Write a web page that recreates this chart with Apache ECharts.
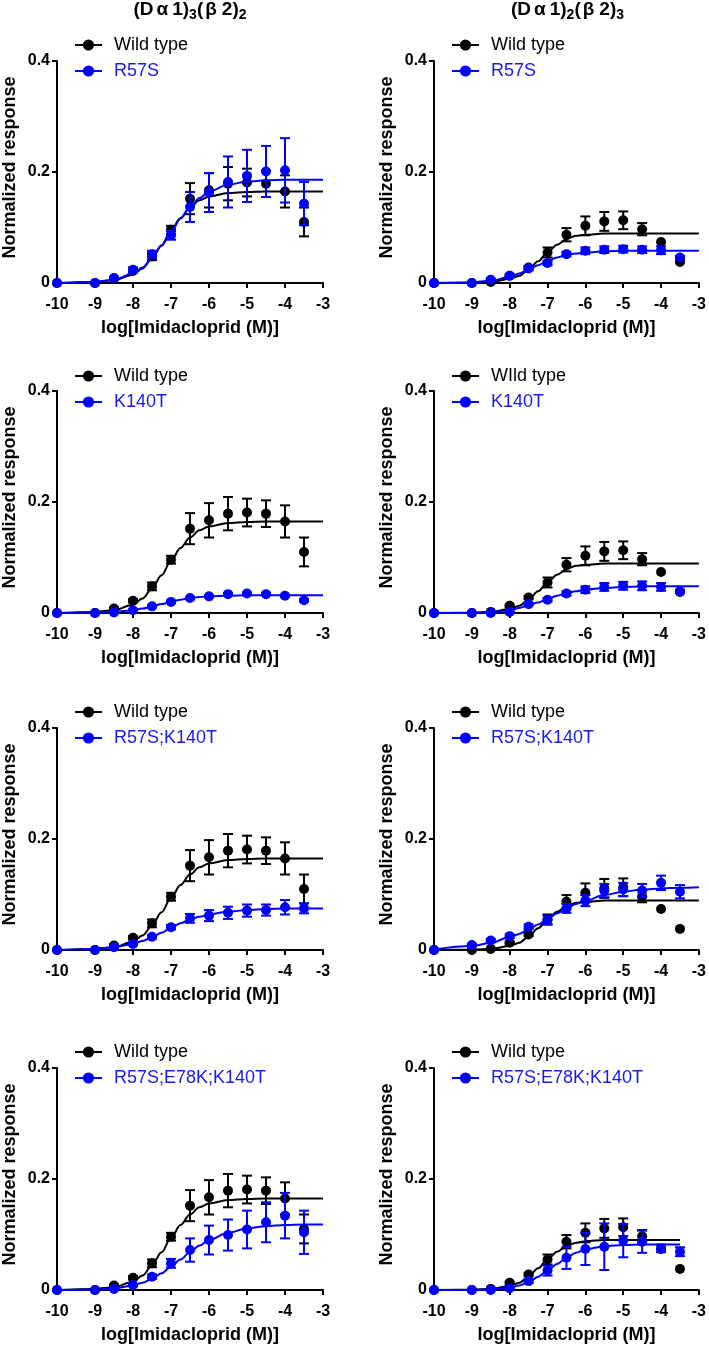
<!DOCTYPE html>
<html><head><meta charset="utf-8">
<script src="https://cdn.jsdelivr.net/npm/echarts@6/dist/echarts.min.js"></script>
<style>html,body{margin:0;padding:0;background:#fff}#c{width:709px;height:1345px}</style>
</head><body><div id="c"></div>
<script>
// ---------- DATA ----------
const doses = [-10, -9, -8.5, -8, -7.5, -7, -6.5, -6, -5.5, -5, -4.5, -4, -3.5];
const fitX  = [-10, -9, -8.5, -8, -7.75, -7.5, -7.25, -7, -6.75, -6.5, -6.25, -6, -5.5, -5, -4.5, -4, -3.5, -3];
const xTicks = [-10, -9, -8, -7, -6, -5, -4, -3];
const yTicks = [0, 0.2, 0.4];

// column titles: [main, subscript, main, subscript]
const leftTitleParts  = ['(D', 'α', '1)', '3', '(', 'β', '2)', '2'];
const rightTitleParts = ['(D', 'α', '1)', '2', '(', 'β', '2)', '3'];
const xAxisTitle = 'log[Imidacloprid (M)]';
const yAxisTitle = 'Normalized response';

// Wild type, (Dα1)3(β2)2
const wtLeftMean = [0, 0, 0.008, 0.022, 0.048, 0.096, 0.152, 0.167, 0.179, 0.181, 0.179, 0.165, 0.110];
const wtLeftSem  = [0, 0, 0.002, 0.003, 0.007, 0.007, 0.028, 0.031, 0.030, 0.025, 0.024, 0.029, 0.026];
const wtLeftFit  = [0, 0.002, 0.005, 0.015, 0.026, 0.044, 0.068, 0.094, 0.117, 0.136, 0.149, 0.156, 0.162, 0.164, 0.165, 0.165, 0.165, 0.165];
// Wild type, (Dα1)2(β2)3
const wtRightMean = [0, 0, 0.002, 0.013, 0.028, 0.055, 0.087, 0.103, 0.111, 0.113, 0.097, 0.074, 0.038];
const wtRightSem  = [0, 0, 0, 0.002, 0.003, 0.009, 0.012, 0.017, 0.017, 0.016, 0.011, 0, 0];
const wtRightFit  = [0, 0.0005, 0.002, 0.007, 0.013, 0.024, 0.039, 0.055, 0.069, 0.079, 0.085, 0.087, 0.089, 0.089, 0.089, 0.089, 0.089, 0.089];
const wtRightFitShort = [0, 0.0005, 0.002, 0.007, 0.013, 0.024, 0.039, 0.055, 0.069, 0.079, 0.085, 0.088, 0.090, 0.090, 0.090, 0.090, 0.090, null];

// R57S
const r57sLeftMean  = [0, 0, 0.009, 0.024, 0.052, 0.086, 0.137, 0.163, 0.182, 0.193, 0.201, 0.203, 0.143];
const r57sLeftSem   = [0, 0, 0.002, 0.004, 0.006, 0.008, 0.027, 0.035, 0.046, 0.047, 0.046, 0.058, 0.039];
const r57sLeftFit   = [0, 0.002, 0.006, 0.017, 0.028, 0.045, 0.067, 0.092, 0.116, 0.137, 0.153, 0.165, 0.177, 0.183, 0.185, 0.186, 0.186, 0.186];
const r57sRightMean = [0, 0, 0.006, 0.013, 0.026, 0.036, 0.052, 0.058, 0.060, 0.061, 0.060, 0.059, 0.046];
const r57sRightSem  = [0, 0, 0.002, 0.002, 0.003, 0.004, 0.004, 0.006, 0.006, 0.006, 0.006, 0.007, 0.003];
const r57sRightFit  = [0, 0.001, 0.004, 0.011, 0.017, 0.024, 0.032, 0.040, 0.046, 0.051, 0.053, 0.055, 0.057, 0.058, 0.058, 0.058, 0.058, 0.058];

// K140T
const k140tLeftMean  = [0, 0, 0.001, 0.005, 0.012, 0.020, 0.027, 0.030, 0.034, 0.035, 0.034, 0.031, 0.023];
const k140tLeftSem   = [0, 0, 0, 0.001, 0.002, 0.002, 0.002, 0.002, 0.002, 0.002, 0.002, 0.002, 0.002];
const k140tLeftFit   = [0, 0.0005, 0.002, 0.005, 0.008, 0.012, 0.016, 0.020, 0.024, 0.027, 0.029, 0.030, 0.031, 0.032, 0.032, 0.032, 0.032, 0.032];
const k140tRightMean = [0, 0, 0, 0.002, 0.016, 0.024, 0.035, 0.042, 0.047, 0.049, 0.049, 0.047, 0.039];
const k140tRightSem  = [0, 0, 0, 0.001, 0.002, 0.003, 0.004, 0.006, 0.007, 0.007, 0.008, 0.007, 0.002];
const k140tRightFit  = [0, 0, 0.001, 0.005, 0.009, 0.014, 0.019, 0.025, 0.031, 0.036, 0.039, 0.042, 0.045, 0.047, 0.048, 0.048, 0.048, 0.048];

// R57S;K140T
const dblLeftMean  = [0, 0, 0.005, 0.011, 0.024, 0.041, 0.057, 0.062, 0.067, 0.071, 0.072, 0.077, 0.075];
const dblLeftSem   = [0, 0, 0.001, 0.002, 0.003, 0.004, 0.008, 0.010, 0.011, 0.011, 0.010, 0.013, 0.009];
const dblLeftFit   = [0, 0.002, 0.005, 0.011, 0.016, 0.023, 0.031, 0.040, 0.048, 0.055, 0.060, 0.064, 0.069, 0.072, 0.074, 0.075, 0.075, 0.075];
const dblRightMean = [0, 0.009, 0.017, 0.025, 0.042, 0.054, 0.075, 0.089, 0.107, 0.109, 0.107, 0.121, 0.105];
const dblRightSem  = [0, 0.002, 0.003, 0.003, 0.004, 0.008, 0.008, 0.010, 0.012, 0.012, 0.012, 0.013, 0.012];
const dblRightFit  = [0.001, 0.007, 0.013, 0.023, 0.029, 0.037, 0.046, 0.056, 0.066, 0.075, 0.083, 0.089, 0.099, 0.105, 0.109, 0.111, 0.112, 0.113];

// R57S;E78K;K140T
const triLeftMean  = [0, 0, 0.002, 0.009, 0.024, 0.048, 0.072, 0.090, 0.099, 0.109, 0.122, 0.134, 0.104];
const triLeftSem   = [0, 0, 0.001, 0.002, 0.004, 0.008, 0.021, 0.026, 0.028, 0.034, 0.036, 0.041, 0.039];
const triLeftFit   = [0, 0.001, 0.003, 0.008, 0.013, 0.020, 0.030, 0.042, 0.055, 0.068, 0.080, 0.090, 0.103, 0.111, 0.115, 0.117, 0.118, 0.118];
const triRightMean = [0, 0, 0, 0.003, 0.016, 0.035, 0.058, 0.074, 0.078, 0.089, 0.087, 0.075, 0.069];
const triRightSem  = [0, 0, 0, 0.002, 0.003, 0.009, 0.020, 0.029, 0.042, 0.030, 0.020, 0.007, 0.008];
const triRightFit  = [0, 0, 0.001, 0.004, 0.008, 0.014, 0.024, 0.035, 0.047, 0.058, 0.067, 0.073, 0.079, 0.081, 0.082, 0.082, 0.082, null];

// ---------- PANELS ----------
const panels = [
  {row:0, col:0, wt:'Wild type', mut:'R57S', wtMean:wtLeftMean, wtSem:wtLeftSem, wtFit:wtLeftFit, mMean:r57sLeftMean, mSem:r57sLeftSem, mFit:r57sLeftFit},
  {row:0, col:1, wt:'Wild type', mut:'R57S', wtMean:wtRightMean, wtSem:wtRightSem, wtFit:wtRightFit, mMean:r57sRightMean, mSem:r57sRightSem, mFit:r57sRightFit},
  {row:1, col:0, wt:'Wild type', mut:'K140T', wtMean:wtLeftMean, wtSem:wtLeftSem, wtFit:wtLeftFit, mMean:k140tLeftMean, mSem:k140tLeftSem, mFit:k140tLeftFit},
  {row:1, col:1, wt:'WIld type', mut:'K140T', wtMean:wtRightMean, wtSem:wtRightSem, wtFit:wtRightFit, mMean:k140tRightMean, mSem:k140tRightSem, mFit:k140tRightFit},
  {row:2, col:0, wt:'Wild type', mut:'R57S;K140T', wtMean:wtLeftMean, wtSem:wtLeftSem, wtFit:wtLeftFit, mMean:dblLeftMean, mSem:dblLeftSem, mFit:dblLeftFit},
  {row:2, col:1, wt:'Wild type', mut:'R57S;K140T', wtMean:wtRightMean, wtSem:wtRightSem, wtFit:wtRightFit, mMean:dblRightMean, mSem:dblRightSem, mFit:dblRightFit},
  {row:3, col:0, wt:'Wild type', mut:'R57S;E78K;K140T', wtMean:wtLeftMean, wtSem:wtLeftSem, wtFit:wtLeftFit, mMean:triLeftMean, mSem:triLeftSem, mFit:triLeftFit},
  {row:3, col:1, wt:'Wild type', mut:'R57S;E78K;K140T', wtMean:wtRightMean, wtSem:wtRightSem, wtFit:wtRightFitShort, mMean:triRightMean, mSem:triRightSem, mFit:triRightFit}
];

// ---------- LAYOUT / STYLE ----------
const FONT = "'Liberation Sans', Arial, Helvetica, sans-serif";
const BLACK = '#000000', BLUE = '#0000ff', BLUE_TEXT = '#1a1ae6';
const colLeft = [57, 434], colWidth = [266, 267];
const rowTop = [61, 391, 728, 1068], plotH = 222;
const legendTop = [36, 367, 703, 1043], legendLeft = [74, 451];

function errRender(params, api) {
  const x = api.value(0), y = api.value(1), e = api.value(2);
  if (!e) return null;
  const t = api.coord([x, y + e]), b = api.coord([x, y - e]);
  const hw = 5, color = api.visual('color');
  const st = {stroke: color, lineWidth: 2};
  return {type: 'group', children: [
    {type: 'line', shape: {x1: t[0], y1: t[1], x2: b[0], y2: b[1]}, style: st},
    {type: 'line', shape: {x1: t[0] - hw, y1: t[1], x2: t[0] + hw, y2: t[1]}, style: st},
    {type: 'line', shape: {x1: b[0] - hw, y1: b[1], x2: b[0] + hw, y2: b[1]}, style: st}
  ]};
}

const grid = [], xAxis = [], yAxis = [], series = [], legend = [], title = [];
const axisLbl = {color: BLACK, fontWeight: 'bold', fontSize: 16, fontFamily: FONT};
const nameTs = {color: BLACK, fontWeight: 'bold', fontSize: 18, fontFamily: FONT};

const mainT = {fontSize: 19, fontWeight: 'bold', fontFamily: FONT, color: BLACK, lineHeight: 22, verticalAlign: 'top'};
const richTitle = {
  a: mainT,
  g: Object.assign({}, mainT, {padding: [0, 4, 0, 3]}),
  b: Object.assign({}, mainT, {padding: [0, 5, 0, 2]}),
  s: {fontSize: 14, fontWeight: 'bold', fontFamily: FONT, color: BLACK, lineHeight: 14, verticalAlign: 'bottom'}
};
[leftTitleParts, rightTitleParts].forEach((tp, c) => {
  title.push({
    text: `{a|${tp[0]}}{g|${tp[1]}}{a|${tp[2]}}{s|${tp[3]}}{a|${tp[4]}}{b|${tp[5]}}{a|${tp[6]}}{s|${tp[7]}}`,
    left: colLeft[c] + colWidth[c] / 2, top: 0, textAlign: 'center', padding: 0,
    textStyle: {rich: richTitle}
  });
});

panels.forEach((p, i) => {
  grid.push({left: colLeft[p.col], top: rowTop[p.row], width: colWidth[p.col], height: plotH, containLabel: false});
  xAxis.push({
    type: 'value', gridIndex: i, min: xTicks[0], max: xTicks[xTicks.length - 1], interval: 1,
    axisLine: {show: true, onZero: false, lineStyle: {color: BLACK, width: 2}},
    axisTick: {show: true, inside: false, length: 5, lineStyle: {color: BLACK, width: 2}},
    axisLabel: Object.assign({margin: 14}, axisLbl),
    splitLine: {show: false},
    name: xAxisTitle, nameLocation: 'middle', nameGap: 36, nameTextStyle: nameTs, nameMoveOverlap: false
  });
  yAxis.push({
    type: 'value', gridIndex: i, min: yTicks[0], max: yTicks[yTicks.length - 1], interval: 0.2,
    axisLine: {show: true, onZero: false, lineStyle: {color: BLACK, width: 2}},
    axisTick: {show: true, inside: false, length: 5, lineStyle: {color: BLACK, width: 2}},
    axisLabel: Object.assign({margin: 7}, axisLbl),
    splitLine: {show: false},
    name: yAxisTitle, nameLocation: 'middle', nameGap: 38,
    nameTextStyle: Object.assign({padding: [0, 0, 0, 9]}, nameTs), nameMoveOverlap: false
  });
  const groups = [
    {name: p.wt, color: BLACK, mean: p.wtMean, sem: p.wtSem, fit: p.wtFit, z: 2},
    {name: p.mut, color: BLUE, mean: p.mMean, sem: p.mSem, fit: p.mFit, z: 5}
  ];
  groups.forEach(g => {
    series.push({
      type: 'custom', name: g.name + ' err ' + i, xAxisIndex: i, yAxisIndex: i, silent: true,
      renderItem: errRender, itemStyle: {color: g.color}, encode: {x: 0, y: 1},
      data: doses.map((x, k) => [x, g.mean[k], g.sem[k]]), z: g.z
    });
    series.push({
      type: 'line', name: g.name, xAxisIndex: i, yAxisIndex: i, silent: true,
      smooth: 0.35, smoothMonotone: 'x', symbol: 'circle', symbolSize: 7, showSymbol: false,
      lineStyle: {color: g.color, width: 2}, itemStyle: {color: g.color},
      data: fitX.map((x, k) => [x, g.fit[k]]), z: g.z + 1
    });
    series.push({
      type: 'scatter', name: g.name + ' pts ' + i, xAxisIndex: i, yAxisIndex: i, silent: true,
      symbol: 'circle', symbolSize: 10, itemStyle: {color: g.color, opacity: 1},
      data: doses.map((x, k) => [x, g.mean[k]]), z: g.z + 2
    });
  });
  legend.push({
    orient: 'vertical', left: legendLeft[p.col], top: legendTop[p.row], selectedMode: false,
    itemWidth: 27, itemHeight: 14, itemGap: 8, padding: 0,
    textStyle: {fontSize: 18, fontFamily: FONT, lineHeight: 18, padding: [0, 0, 0, 7]},
    data: [
      {name: p.wt, textStyle: {color: BLACK}},
      {name: p.mut, textStyle: {color: BLUE_TEXT}}
    ]
  });
});

const chart = echarts.init(document.getElementById('c'), null, {renderer: 'canvas'});
chart.setOption({animation: false, backgroundColor: '#ffffff', title, grid, xAxis, yAxis, legend, series});
</script></body></html>
